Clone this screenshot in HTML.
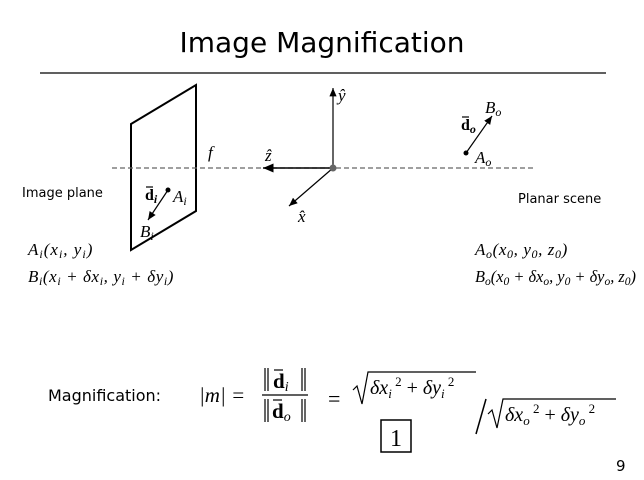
<!DOCTYPE html>
<html><head><meta charset="utf-8"><style>
body{margin:0;background:#fff;width:644px;height:480px;overflow:hidden}
svg{display:block}
.s{font-family:"DejaVu Sans","Liberation Sans",sans-serif}
.m{font-family:"Liberation Serif","DejaVu Serif",serif;font-style:italic}
.b{font-family:"Liberation Serif",serif;font-weight:bold}
</style></head><body>
<svg width="644" height="480" viewBox="0 0 644 480">
<defs><marker id="ah" markerWidth="8" markerHeight="8" refX="7" refY="4" orient="auto"><path d="M0,1 L7,4 L0,7 Z" fill="#000"/></marker></defs>
<text class="s" x="322" y="52" font-size="28" text-anchor="middle">Image Magnification</text>
<line x1="40" y1="73" x2="606" y2="73" stroke="#000" stroke-width="1.3"/>
<polygon points="131,124 196,85 196,211 131,250" fill="none" stroke="#000" stroke-width="2"/>
<line x1="112" y1="168" x2="533" y2="168" stroke="#666" stroke-width="1.3" stroke-dasharray="5,3"/>
<line x1="333" y1="168" x2="333" y2="88" stroke="#000" stroke-width="1.2" marker-end="url(#ah)"/>
<line x1="333" y1="168" x2="263" y2="168" stroke="#000" stroke-width="1.5" marker-end="url(#ah)"/>
<line x1="333" y1="168" x2="289" y2="206" stroke="#000" stroke-width="1.2" marker-end="url(#ah)"/>
<circle cx="333" cy="168" r="3.5" fill="#666"/>
<text class="m" x="338" y="101" font-size="17">ŷ</text>
<text class="m" x="265" y="161" font-size="17">ẑ</text>
<text class="m" x="298" y="222" font-size="17">x̂</text>
<text class="m" x="208" y="158" font-size="17">f</text>
<text class="s" x="22" y="197" font-size="13">Image plane</text>
<text class="s" x="518" y="203" font-size="13">Planar scene</text>
<circle cx="168" cy="190" r="2.5" fill="#000"/>
<line x1="168" y1="190" x2="148" y2="220" stroke="#000" stroke-width="1.2" marker-end="url(#ah)"/>
<text class="b" x="145" y="200" font-size="16">d<tspan class="m" font-size="12" dy="3">i</tspan></text>
<line x1="146" y1="187" x2="153" y2="187" stroke="#000" stroke-width="1.2"/>
<text class="m" x="173" y="202" font-size="17">A<tspan font-size="12" dy="3">i</tspan></text>
<text class="m" x="140" y="237" font-size="17">B<tspan font-size="12" dy="3">i</tspan></text>
<circle cx="466" cy="153" r="2.5" fill="#000"/>
<line x1="466" y1="153" x2="492" y2="116" stroke="#000" stroke-width="1.2" marker-end="url(#ah)"/>
<text class="b" x="461" y="130" font-size="16">d<tspan class="m" font-size="12" dy="3">o</tspan></text>
<line x1="462" y1="117" x2="469" y2="117" stroke="#000" stroke-width="1.2"/>
<text class="m" x="485" y="113" font-size="17">B<tspan font-size="12" dy="3">o</tspan></text>
<text class="m" x="475" y="163" font-size="17">A<tspan font-size="12" dy="3">o</tspan></text>
<g font-size="17" class="m">
<text x="28" y="255" letter-spacing="1">A<tspan font-size="12" dy="3">i</tspan><tspan dy="-3">(x</tspan><tspan font-size="12" dy="3">i</tspan><tspan dy="-3">, y</tspan><tspan font-size="12" dy="3">i</tspan><tspan dy="-3">)</tspan></text>
<text x="28" y="282" letter-spacing="0.6">B<tspan font-size="12" dy="3">i</tspan><tspan dy="-3">(x</tspan><tspan font-size="12" dy="3">i</tspan><tspan dy="-3"> + δx</tspan><tspan font-size="12" dy="3">i</tspan><tspan dy="-3">, y</tspan><tspan font-size="12" dy="3">i</tspan><tspan dy="-3"> + δy</tspan><tspan font-size="12" dy="3">i</tspan><tspan dy="-3">)</tspan></text>
<text x="475" y="255" letter-spacing="0.6">A<tspan font-size="12" dy="3">o</tspan><tspan dy="-3">(x</tspan><tspan font-size="12" dy="3">0</tspan><tspan dy="-3">, y</tspan><tspan font-size="12" dy="3">0</tspan><tspan dy="-3">, z</tspan><tspan font-size="12" dy="3">0</tspan><tspan dy="-3">)</tspan></text>
<text x="475" y="282" textLength="161" lengthAdjust="spacingAndGlyphs">B<tspan font-size="12" dy="3">o</tspan><tspan dy="-3">(x</tspan><tspan font-size="12" dy="3">0</tspan><tspan dy="-3"> + δx</tspan><tspan font-size="12" dy="3">o</tspan><tspan dy="-3">, y</tspan><tspan font-size="12" dy="3">0</tspan><tspan dy="-3"> + δy</tspan><tspan font-size="12" dy="3">o</tspan><tspan dy="-3">, z</tspan><tspan font-size="12" dy="3">0</tspan><tspan dy="-3">)</tspan></text>
</g>
<text class="s" x="48" y="401" font-size="16">Magnification:</text>
<text class="m" x="199" y="402" font-size="21">|m| =</text>
<g stroke="#000" stroke-width="1.2">
<line x1="265" y1="368" x2="265" y2="391"/><line x1="268" y1="368" x2="268" y2="391"/>
<line x1="302" y1="368" x2="302" y2="391"/><line x1="305" y1="368" x2="305" y2="391"/>
<line x1="265" y1="399" x2="265" y2="422"/><line x1="268" y1="399" x2="268" y2="422"/>
<line x1="302" y1="399" x2="302" y2="422"/><line x1="305" y1="399" x2="305" y2="422"/>
</g>
<text x="273" y="388" font-size="21" font-weight="bold" font-family="Liberation Serif,serif">d<tspan class="m" font-weight="normal" font-size="14" dy="3">i</tspan></text>
<line x1="274" y1="370" x2="283" y2="370" stroke="#000" stroke-width="1.2"/>
<line x1="262" y1="395" x2="308" y2="395" stroke="#000" stroke-width="1.2"/>
<text x="272" y="418" font-size="21" font-weight="bold" font-family="Liberation Serif,serif">d<tspan class="m" font-weight="normal" font-size="14" dy="3">o</tspan></text>
<line x1="273" y1="400" x2="282" y2="400" stroke="#000" stroke-width="1.2"/>
<text x="328" y="406" font-size="22" font-family="Liberation Serif,serif">=</text>
<path d="M353,390 L357,386 L362,404 L368,372 L476,372" fill="none" stroke="#000" stroke-width="1.2"/>
<text class="m" x="370" y="394" font-size="20">δx<tspan font-size="13" dy="4">i</tspan><tspan font-size="13" font-style="normal" dy="-12"> 2</tspan><tspan font-style="normal" dy="8"> + </tspan>δy<tspan font-size="13" dy="4">i</tspan><tspan font-size="13" font-style="normal" dy="-12"> 2</tspan></text>
<line x1="486" y1="399" x2="476" y2="434" stroke="#000" stroke-width="1.5"/>
<path d="M488,414 L492,410 L497,428 L503,399 L616,399" fill="none" stroke="#000" stroke-width="1.2"/>
<text class="m" x="505" y="421" font-size="20">δx<tspan font-size="13" dy="4">o</tspan><tspan font-size="13" font-style="normal" dy="-12"> 2</tspan><tspan font-style="normal" dy="8"> + </tspan>δy<tspan font-size="13" dy="4">o</tspan><tspan font-size="13" font-style="normal" dy="-12"> 2</tspan></text>
<rect x="381" y="420" width="30" height="32" fill="none" stroke="#000" stroke-width="1.5"/>
<text x="396" y="446" font-size="24" text-anchor="middle" font-family="Liberation Serif,serif">1</text>
<text class="s" x="616" y="471" font-size="15">9</text>
</svg>
</body></html>
